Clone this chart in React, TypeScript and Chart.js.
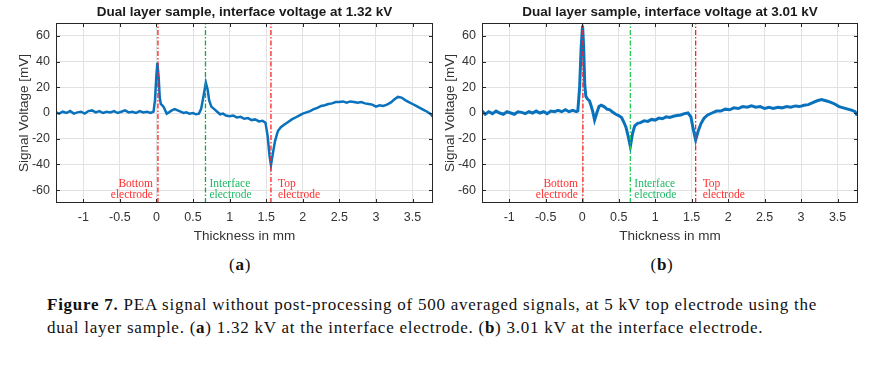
import React, { useEffect, useRef } from "react";
import { Chart, registerables } from "chart.js";
Chart.register(...registerables);

// ---------- data ----------
const thicknessA = [-1.37,-1.33,-1.28,-1.23,-1.18,-1.13,-1.08,-1.03,-0.98,-0.93,-0.88,-0.83,-0.78,-0.73,-0.68,-0.63,-0.58,-0.53,-0.48,-0.43,-0.38,-0.33,-0.28,-0.23,-0.18,-0.13,-0.08,-0.04,-0.02,0.0,0.013,0.03,0.045,0.06,0.08,0.1,0.12,0.14,0.17,0.21,0.25,0.29,0.33,0.37,0.41,0.45,0.5,0.54,0.58,0.61,0.64,0.675,0.7,0.72,0.75,0.79,0.83,0.87,0.91,0.95,1.0,1.05,1.1,1.15,1.2,1.25,1.3,1.35,1.4,1.45,1.49,1.52,1.545,1.565,1.59,1.62,1.66,1.7,1.75,1.8,1.85,1.9,1.95,2.0,2.05,2.1,2.15,2.2,2.25,2.3,2.35,2.4,2.45,2.5,2.55,2.6,2.65,2.7,2.75,2.8,2.85,2.9,2.95,3.0,3.05,3.1,3.15,3.2,3.25,3.3,3.35,3.4,3.45,3.5,3.55,3.6,3.65,3.7,3.75,3.78];
const voltageA = [0.5,-0.5,1,0,1.5,-0.5,0.5,1,-0.5,1.5,2,0.5,1.5,0,1,0.5,1.5,0,1,2,0.5,1,0,1.5,0.5,1,0,1,10,30,39,28,12,7,6,4.5,2,-0.5,0.5,2,3,2,1,0,0.5,-0.5,0,-1,-0.5,3,12,23.5,18,10,5,3,1,-1,-0.5,-2,-2.5,-2,-3.5,-3,-4.5,-4,-5.5,-5,-6.5,-6,-7.5,-18,-33,-40.5,-32,-22,-14,-11,-9,-7,-5,-3.5,-2,-0.5,0.5,1.5,3,4,5.5,6,7,7.5,8.5,8.5,9,8,9,8.5,8,8.5,7.5,7,6.5,5,6,5.5,6.5,8,10.5,12.5,12,10,8.5,7,5.5,4,2.5,1,-1,-3];

const thicknessB = [-1.37,-1.33,-1.28,-1.23,-1.18,-1.13,-1.08,-1.03,-0.98,-0.93,-0.88,-0.83,-0.78,-0.73,-0.68,-0.63,-0.58,-0.53,-0.48,-0.43,-0.38,-0.33,-0.28,-0.23,-0.18,-0.13,-0.08,-0.06,-0.035,-0.015,0.005,0.02,0.035,0.05,0.07,0.1,0.12,0.145,0.17,0.2,0.23,0.26,0.3,0.34,0.38,0.42,0.46,0.5,0.54,0.57,0.6,0.63,0.66,0.69,0.72,0.76,0.8,0.85,0.9,0.95,1.0,1.05,1.1,1.15,1.2,1.25,1.3,1.35,1.4,1.45,1.49,1.52,1.555,1.59,1.63,1.67,1.72,1.78,1.84,1.9,1.96,2.02,2.08,2.14,2.2,2.26,2.32,2.38,2.44,2.5,2.56,2.62,2.68,2.74,2.8,2.86,2.92,2.98,3.04,3.1,3.16,3.22,3.28,3.34,3.4,3.46,3.52,3.58,3.64,3.7,3.74,3.77];
const voltageB = [1.5,-1,1,-0.5,1.5,0,-1,1,0,-1,1,0.5,-0.5,1,0,1.5,0,1,-0.5,1.5,1,2,1,2.5,1,2,1,1.5,20,50,68,52,22,13,11,9.5,6,1,-5.5,0,5,6,5,3,2.5,0.5,-1,-2,-3.5,-7,-11,-18,-26,-16,-10,-8,-7.5,-6,-6.5,-5,-5.5,-4,-4.5,-3,-3.5,-2.5,-2,-1.5,-0.5,0,-3,-12,-21,-14,-8,-4,-1.5,0,1.5,1.5,3,2.5,4,3.5,5,4.5,5.5,4.5,5,3.5,4.5,3.5,4.5,4,5,4.5,5.5,5,6,6.5,8,9.5,10.5,9.5,8.5,7,5,4,3,2,1,-2];

const electrodesA = [0.02, 0.67, 1.565];
const electrodesB = [0.01, 0.66, 1.555];
const electrodeNames = [["Bottom", "electrode"], ["Interface", "electrode"], ["Top", "electrode"]];
const xTickValues = [-1, -0.5, 0, 0.5, 1, 1.5, 2, 2.5, 3, 3.5];
const yTickValues = [-60, -40, -20, 0, 20, 40, 60];
const xRange = [-1.373, 3.78];
const yRange = [-70, 70];
const titleA = "Dual layer sample, interface voltage at 1.32 kV";
const titleB = "Dual layer sample, interface voltage at 3.01 kV";

const SANS = "'Liberation Sans', Arial, sans-serif";
const SERIF = "'Liberation Serif', 'Times New Roman', serif";
const TEXT = "#333333";

type Cfg = {
  xs: number[]; ys: number[]; electrodes: number[]; title: string;
  width: number; axisWidth: number; padRight: number; yTitlePad: number;
  lineWidth: number; green: string; red: string;
};

function PeaChart(p: Cfg) {
  const ref = useRef<HTMLCanvasElement | null>(null);
  useEffect(() => {
    if (!ref.current) return;
    const lineColors = [p.red, p.green, p.red];
    const labelColors = ["#ff2e2e", "#1fb866", "#ff2e2e"];

    const titlePlugin = {
      id: "ttl",
      afterDraw(chart: any) {
        const { ctx, chartArea: a } = chart;
        ctx.save();
        ctx.font = `bold 13.5px ${SANS}`;
        ctx.fillStyle = "#1a1a1a";
        ctx.textAlign = "center";
        ctx.textBaseline = "middle";
        ctx.fillText(p.title, (a.left + a.right) / 2, 12);
        ctx.restore();
      },
    };
    const framePlugin = {
      id: "frame",
      afterDraw(chart: any) {
        const { ctx, chartArea: a, scales } = chart;
        ctx.save();
        ctx.strokeStyle = "#262626";
        ctx.lineWidth = 1;
        ctx.strokeRect(Math.round(a.left) + 0.5, Math.round(a.top) + 0.5, Math.round(a.right - a.left) - 1, Math.round(a.bottom - a.top) - 1);
        ctx.beginPath();
        scales.x.ticks.forEach((t: any) => {
          const px = Math.round(scales.x.getPixelForValue(t.value)) + 0.5;
          ctx.moveTo(px, a.bottom); ctx.lineTo(px, a.bottom - 4);
          ctx.moveTo(px, a.top); ctx.lineTo(px, a.top + 4);
        });
        scales.y.ticks.forEach((t: any) => {
          const py = Math.round(scales.y.getPixelForValue(t.value)) + 0.5;
          ctx.moveTo(a.left, py); ctx.lineTo(a.left + 4, py);
          ctx.moveTo(a.right, py); ctx.lineTo(a.right - 4, py);
        });
        ctx.stroke();
        ctx.restore();
      },
    };
    const labelPlugin = {
      id: "elabels",
      afterDatasetsDraw(chart: any) {
        const { ctx, chartArea: a, scales } = chart;
        ctx.save();
        ctx.font = `11.5px ${SERIF}`;
        ctx.textBaseline = "middle";
        p.electrodes.forEach((e, i) => {
          const px = scales.x.getPixelForValue(e);
          const right = i === 0;
          ctx.textAlign = right ? "right" : "left";
          const off = right ? -5 : i === 1 ? 4 : 7;
          ctx.fillStyle = labelColors[i];
          ctx.fillText(electrodeNames[i][0], px + off, a.bottom - 19);
          ctx.fillText(electrodeNames[i][1], px + off, a.bottom - 8);
        });
        ctx.restore();
      },
    };

    const verticals = p.electrodes.map((e, i) => ({
      data: [{ x: e, y: yRange[0] }, { x: e, y: yRange[1] }],
      borderColor: lineColors[i],
      borderWidth: 1.3,
      borderDash: [5, 2, 1.5, 2],
      showLine: true,
      pointRadius: 0,
      fill: false,
    }));
    const trace = {
      data: p.xs.map((x, i) => ({ x, y: p.ys[i] })),
      borderColor: "#0a72bd",
      borderWidth: p.lineWidth,
      showLine: true,
      pointRadius: 0,
      fill: false,
      tension: 0,
      borderJoinStyle: "miter",
    };

    const chart = new Chart(ref.current, {
      type: "scatter",
      data: { datasets: [...verticals, trace] as any },
      options: {
        animation: false,
        responsive: false,
        devicePixelRatio: 1,
        layout: { padding: { top: 23, right: p.padRight, left: 0, bottom: 0 } },
        plugins: { legend: { display: false }, tooltip: { enabled: false }, title: { display: false } },
        scales: {
          x: {
            type: "linear",
            min: xRange[0],
            max: xRange[1],
            afterBuildTicks: (s: any) => { s.ticks = xTickValues.map((v) => ({ value: v })); },
            afterFit: (s: any) => { s.height = 47; },
            ticks: { padding: 7, color: TEXT, font: { family: SANS, size: 12.5 }, maxRotation: 0, autoSkip: false, callback: (v: any) => String(v) },
            grid: { color: "#e2e2e2", drawTicks: false, lineWidth: 1 },
            border: { display: false },
            title: { display: true, text: "Thickness in mm", color: TEXT, font: { family: SANS, size: 13.5 }, padding: { top: 0, bottom: 6 } },
          },
          y: {
            type: "linear",
            min: yRange[0],
            max: yRange[1],
            afterBuildTicks: (s: any) => { s.ticks = yTickValues.map((v) => ({ value: v })); },
            afterFit: (s: any) => { s.width = p.axisWidth; },
            ticks: { padding: 6, color: TEXT, font: { family: SANS, size: 12.5 }, autoSkip: false, callback: (v: any) => String(v) },
            grid: { color: "#e2e2e2", drawTicks: false, lineWidth: 1 },
            border: { display: false },
            title: { display: true, text: "Signal Voltage [mV]", color: TEXT, font: { family: SANS, size: 13.5 }, padding: { top: p.yTitlePad, bottom: 0 } },
          },
        },
      } as any,
      plugins: [labelPlugin, framePlugin, titlePlugin],
    });
    return () => chart.destroy();
  }, []);
  return <canvas ref={ref} width={p.width} height={250} style={{ display: "block" }} />;
}

export default function App() {
  const cap = { fontFamily: SERIF, fontSize: 17, color: "#111", letterSpacing: "0.75px" } as const;
  return (
    <div style={{ position: "absolute", left: 0, top: 0, width: 884, height: 365, background: "#fff", overflow: "hidden" }}>
      <div style={{ position: "absolute", left: 0, top: 0 }}>
        <PeaChart xs={thicknessA} ys={voltageA} electrodes={electrodesA} title={titleA}
          width={440} axisWidth={56} padRight={7} yTitlePad={16} lineWidth={2.5} green="#16a34a" red="#ff2020" />
      </div>
      <div style={{ position: "absolute", left: 440, top: 0 }}>
        <PeaChart xs={thicknessB} ys={voltageB} electrodes={electrodesB} title={titleB}
          width={444} axisWidth={42} padRight={26} yTitlePad={2} lineWidth={3} green="#22cc55" red="#ff2020" />
      </div>
      <div style={{ ...cap, position: "absolute", left: 200, top: 254, width: 80, textAlign: "center", lineHeight: "22px" }}>
        (<b>a</b>)
      </div>
      <div style={{ ...cap, position: "absolute", left: 622, top: 254, width: 80, textAlign: "center", lineHeight: "22px" }}>
        (<b>b</b>)
      </div>
      <div style={{ ...cap, position: "absolute", left: 47, top: 293, width: 830, lineHeight: "23px" }}>
        <div style={{ whiteSpace: "nowrap" }}>
          <b>Figure 7.</b> PEA signal without post-processing of 500 averaged signals, at 5 kV top electrode using the
        </div>
        <div style={{ whiteSpace: "nowrap" }}>
          dual layer sample. (<b>a</b>) 1.32 kV at the interface electrode. (<b>b</b>) 3.01 kV at the interface electrode.
        </div>
      </div>
    </div>
  );
}
